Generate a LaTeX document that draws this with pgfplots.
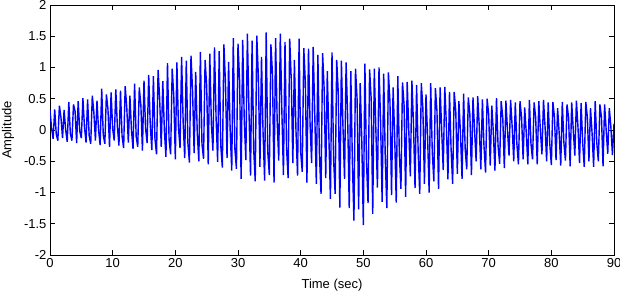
\documentclass[border=0pt]{standalone}
\usepackage{fontspec}
\setmainfont{Liberation Sans}
\usepackage{pgfplots}
\pgfplotsset{compat=1.18}
\definecolor{mblue}{RGB}{0,0,255}
\begin{document}
\begin{tikzpicture}
\begin{axis}[
  at={(0,0)}, anchor=south west,
  scale only axis, width=564pt, height=250pt,
  xmin=0, xmax=90, ymin=-2, ymax=2,
  xtick={0,10,...,90}, ytick={-2,-1.5,...,2},
  tick align=inside, tick pos=both,
  major tick length=5pt,
  axis line style={line width=0.9pt, black},
  every tick/.style={black, line width=0.9pt},
  /pgf/number format/assume math mode=true,
  tick label style={font=\fontsize{13}{15}\selectfont},
  label style={font=\fontsize{13}{15}\selectfont},
  xlabel={Time (sec)},
  ylabel={Amplitude},
  xlabel style={at={(axis description cs:0.5,-0.132)}, anchor=base},
  ylabel style={at={(axis description cs:-0.0745,0.5)}, anchor=center},
  clip=true,
]
\addplot[mblue, line width=1.4pt, line join=miter, miter limit=2] coordinates {
(0,0.32)(0.25,0.03)(0.5,-0.14)
(0.75,0.33)(1,-0.07)(1.25,-0.17)
(1.5,0.39)(1.75,0.2)(2,-0.13)
(2.25,0.32)(2.5,0)(2.75,-0.19)
(3,0.45)(3.25,-0.06)(3.5,-0.17)
(3.75,0.41)(4,0.3)(4.25,-0.21)
(4.5,0.46)(4.75,-0.02)(5,-0.13)
(5.25,0.51)(5.5,0.05)(5.75,-0.2)
(6,0.49)(6.25,-0.09)(6.5,-0.22)
(6.75,0.55)(7,0.28)(7.25,-0.17)
(7.5,0.47)(7.75,0)(8,-0.24)
(8.25,0.66)(8.5,-0.08)(8.75,-0.22)
(9,0.57)(9.25,0.33)(9.5,-0.27)
(9.75,0.6)(10,0.02)(10.25,-0.17)
(10.5,0.65)(10.75,0.06)(11,-0.25)
(11.25,0.63)(11.5,-0.1)(11.75,-0.29)
(12,0.7)(12.25,0.36)(12.5,-0.2)
(12.75,0.55)(13,0)(13.25,-0.3)
(13.5,0.74)(13.75,-0.1)(14,-0.27)
(14.25,0.68)(14.5,0.4)(14.75,-0.33)
(15,0.79)(15.25,0.03)(15.5,-0.21)
(15.75,0.88)(16,0.08)(16.25,-0.32)
(16.5,0.86)(16.75,-0.14)(17,-0.39)
(17.25,0.96)(17.5,0.5)(17.75,-0.27)
(18,0.78)(18.25,0)(18.5,-0.43)
(18.75,1.07)(19,-0.15)(19.25,-0.39)
(19.5,0.98)(19.75,0.55)(20,-0.47)
(20.25,1.08)(20.5,0.04)(20.75,-0.29)
(21,1.17)(21.25,0.12)(21.5,-0.45)
(21.75,1.11)(22,-0.2)(22.25,-0.52)
(22.5,1.19)(22.75,0.62)(23,-0.37)
(23.25,0.93)(23.5,-0.05)(23.75,-0.5)
(24,1.25)(24.25,-0.22)(24.5,-0.46)
(24.75,1.12)(25,0.7)(25.25,-0.55)
(25.5,1.22)(25.75,0.1)(26,-0.33)
(26.25,1.32)(26.5,0.2)(26.75,-0.51)
(27,1.26)(27.25,-0.25)(27.5,-0.6)
(27.75,1.37)(28,0.75)(28.25,-0.45)
(28.5,1.09)(28.75,0)(29,-0.65)
(29.25,1.47)(29.5,-0.3)(29.75,-0.62)
(30,1.38)(30.25,0.8)(30.5,-0.78)
(30.75,1.44)(31,0.15)(31.25,-0.48)
(31.5,1.54)(31.75,0.3)(32,-0.73)
(32.25,1.43)(32.5,-0.3)(32.75,-0.82)
(33,1.51)(33.25,0.85)(33.5,-0.59)
(33.75,1.17)(34,-0.05)(34.25,-0.81)
(34.5,1.56)(34.75,-0.35)(35,-0.72)
(35.25,1.37)(35.5,0.9)(35.75,-0.84)
(36,1.47)(36.25,0.15)(36.5,-0.49)
(36.75,1.54)(37,0.3)(37.25,-0.72)
(37.5,1.41)(37.75,-0.3)(38,-0.77)
(38.25,1.46)(38.5,0.8)(38.75,-0.53)
(39,1.12)(39.25,0)(39.5,-0.73)
(39.75,1.46)(40,-0.35)(40.25,-0.67)
(40.5,1.31)(40.75,0.75)(41,-0.84)
(41.25,1.3)(41.5,0.1)(41.75,-0.53)
(42,1.33)(42.25,0.25)(42.5,-0.86)
(42.75,1.2)(43,-0.4)(43.25,-1.02)
(43.5,1.23)(43.75,0.65)(44,-0.77)
(44.25,0.94)(44.5,-0.1)(44.75,-1.1)
(45,1.24)(45.25,-0.45)(45.5,-1.02)
(45.75,1.12)(46,0.6)(46.25,-1.24)
(46.5,1.11)(46.75,0.05)(47,-0.78)
(47.25,1.08)(47.5,0.2)(47.75,-1.25)
(48,0.94)(48.25,-0.5)(48.5,-1.45)
(48.75,0.98)(49,0.5)(49.25,-1.27)
(49.5,0.75)(49.75,-0.15)(50,-1.52)
(50.25,1.06)(50.5,-0.5)(50.75,-1.17)
(51,0.97)(51.25,0.5)(51.5,-1.34)
(51.75,0.98)(52,0)(52.25,-0.92)
(52.5,1)(52.75,0.15)(53,-1.15)
(53.25,0.9)(53.5,-0.45)(53.75,-1.25)
(54,0.92)(54.25,0.45)(54.5,-1.04)
(54.75,0.68)(55,-0.1)(55.25,-1.16)
(55.5,0.86)(55.75,-0.4)(56,-0.94)
(56.25,0.76)(56.5,0.4)(56.75,-1.07)
(57,0.77)(57.25,0)(57.5,-0.74)
(57.75,0.79)(58,0.1)(58.25,-0.93)
(58.5,0.72)(58.75,-0.35)(59,-1.02)
(59.25,0.75)(59.5,0.35)(59.75,-0.86)
(60,0.57)(60.25,-0.1)(60.5,-1)
(60.75,0.75)(61,-0.35)(61.25,-0.82)
(61.5,0.67)(61.75,0.3)(62,-0.94)
(62.25,0.68)(62.5,0)(62.75,-0.64)
(63,0.69)(63.25,0.08)(63.5,-0.79)
(63.75,0.61)(64,-0.3)(64.25,-0.86)
(64.5,0.61)(64.75,0.3)(65,-0.7)
(65.25,0.46)(65.5,-0.05)(65.75,-0.78)
(66,0.58)(66.25,-0.3)(66.5,-0.63)
(66.75,0.52)(67,0.25)(67.25,-0.72)
(67.5,0.52)(67.75,0)(68,-0.5)
(68.25,0.54)(68.5,0.05)(68.75,-0.63)
(69,0.49)(69.25,-0.25)(69.5,-0.68)
(69.75,0.5)(70,0.25)(70.25,-0.57)
(70.5,0.39)(70.75,-0.05)(71,-0.65)
(71.25,0.51)(71.5,-0.25)(71.75,-0.54)
(72,0.46)(72.25,0.2)(72.5,-0.61)
(72.75,0.47)(73,0)(73.25,-0.41)
(73.5,0.48)(73.75,0.05)(74,-0.5)
(74.25,0.44)(74.5,-0.22)(74.75,-0.55)
(75,0.46)(75.25,0.2)(75.5,-0.47)
(75.75,0.36)(76,-0.05)(76.25,-0.55)
(76.5,0.48)(76.75,-0.22)(77,-0.47)
(77.25,0.44)(77.5,0.2)(77.75,-0.55)
(78,0.46)(78.25,0)(78.5,-0.39)
(78.75,0.48)(79,0.05)(79.25,-0.5)
(79.5,0.44)(79.75,-0.22)(80,-0.56)
(80.25,0.45)(80.5,0.2)(80.75,-0.48)
(81,0.35)(81.25,-0.05)(81.5,-0.57)
(81.75,0.45)(82,-0.2)(82.25,-0.49)
(82.5,0.41)(82.75,0.2)(83,-0.58)
(83.25,0.44)(83.5,0)(83.75,-0.41)
(84,0.47)(84.25,0.05)(84.5,-0.53)
(84.75,0.43)(85,-0.2)(85.25,-0.59)
(85.5,0.45)(85.75,0.2)(86,-0.5)
(86.25,0.35)(86.5,-0.05)(86.75,-0.59)
(87,0.46)(87.25,-0.2)(87.5,-0.5)
(87.75,0.41)(88,0.2)(88.25,-0.58)
(88.5,0.41)(88.75,0)(89,-0.38)
(89.25,0.35)(89.5,0.05)(89.75,-0.4)
(90,0.1)
};
\end{axis}
\pgfresetboundingbox
\path (-50pt,-38pt) rectangle (570pt,255pt);
\end{tikzpicture}
\end{document}
